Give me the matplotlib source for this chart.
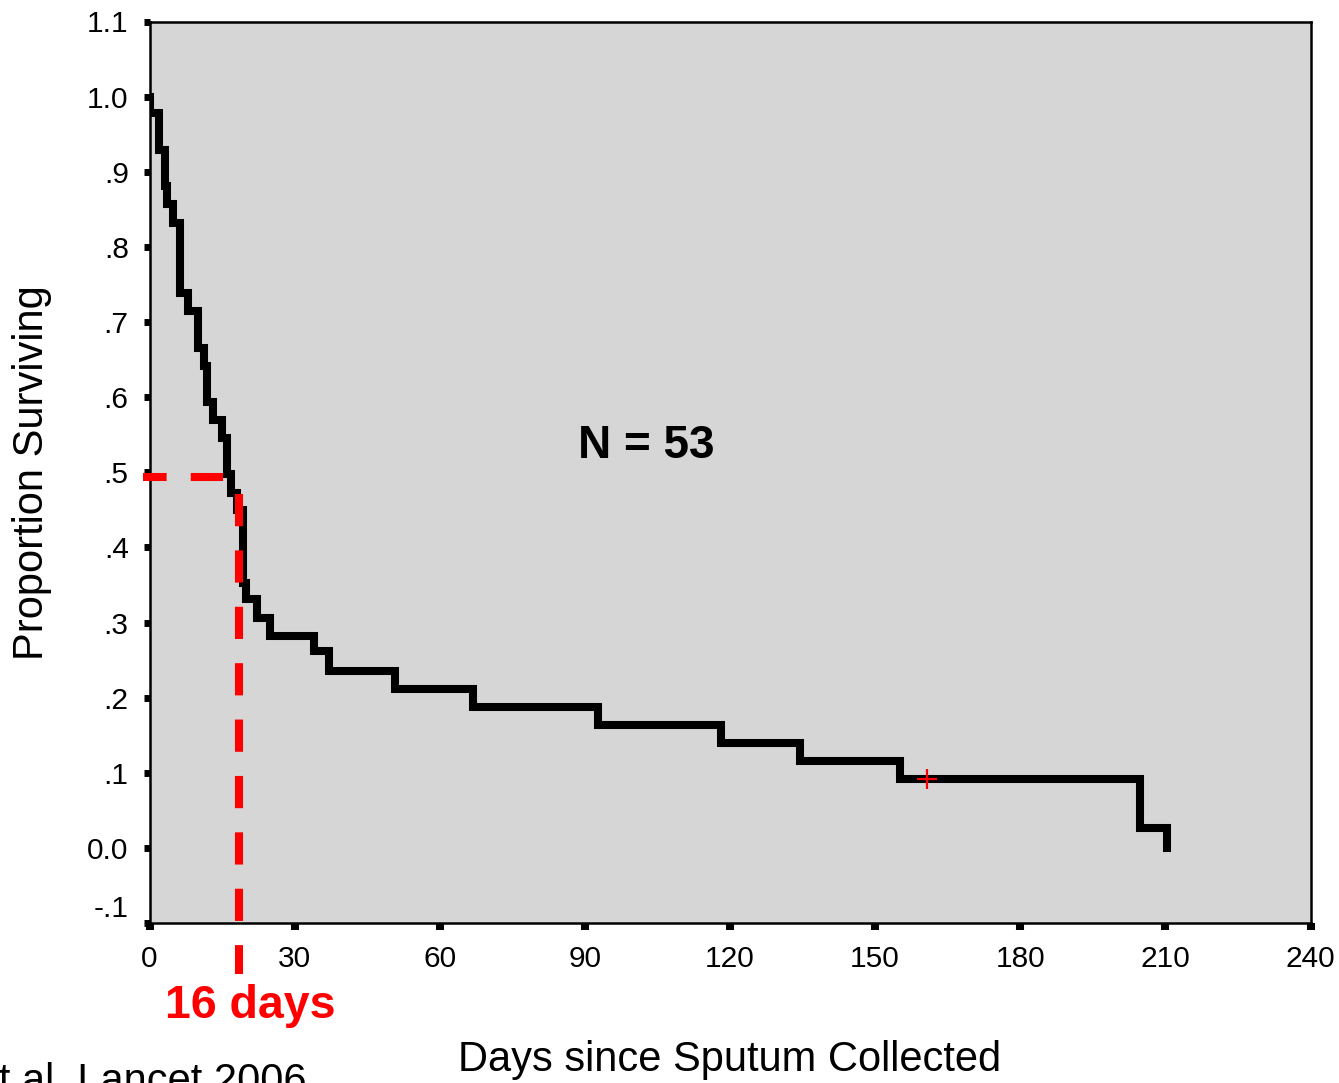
import numpy as np
import matplotlib
matplotlib.use('Agg')
import matplotlib.pyplot as plt

plt.rcParams['font.family'] = ['Liberation Sans', 'DejaVu Sans']

# Curva de supervivencia (Kaplan-Meier)
dias = [0, 0.1, 1.9, 3.2, 3.7, 4.9, 6.3, 8.0, 10.0, 11.2, 11.9, 13.1, 15.0,
        16.1, 16.8, 18.0, 19.3, 19.9, 22.3, 24.9, 34.0, 37.2, 50.8, 66.9,
        92.8, 118.1, 134.4, 155.2, 204.8, 210.3]
supervivencia = [1.0, 0.978, 0.929, 0.881, 0.857, 0.832, 0.738, 0.715, 0.666,
                 0.642, 0.593, 0.570, 0.546, 0.498, 0.473, 0.450, 0.353, 0.331,
                 0.306, 0.282, 0.262, 0.235, 0.211, 0.187, 0.163, 0.139, 0.115,
                 0.092, 0.027, 0.0]

# Observacion censurada
censura_dia = [160.8]
censura_sup = [0.092]

# Mediana marcada en rojo
mediana_y = 0.494
mediana_x_fin = 15.2
mediana_linea_x = 18.5
mediana_linea_y = (0.471, -0.168)

xticks = [0, 30, 60, 90, 120, 150, 180, 210, 240]
yticks = [-0.1, 0.0, 0.1, 0.2, 0.3, 0.4, 0.5, 0.6, 0.7, 0.8, 0.9, 1.0, 1.1]
ytick_labels = ['-.1', '0.0', '.1', '.2', '.3', '.4', '.5', '.6', '.7', '.8',
                '.9', '1.0', '1.1']

W, H = 1339, 1083
fig = plt.figure(figsize=(W / 100, H / 100), dpi=100)
left, right, top, bottom = 149.5, 1310.5, 21.5, 923
ax = fig.add_axes([left / W, 1 - bottom / H, (right - left) / W, (bottom - top) / H])
ax.set_facecolor('#d6d6d6')
ax.set_xlim(0, 240)
ax.set_ylim(-0.1, 1.1)

for s in ax.spines.values():
    s.set_linewidth(1.8)
    s.set_color('black')

# Curva
ax.step(dias, supervivencia, where='post', color='black', lw=5.8,
        solid_joinstyle='miter', solid_capstyle='projecting', zorder=3)
ax.plot(censura_dia, censura_sup, '+', color='red', ms=14, mew=1.6, zorder=4)

# Lineas de la mediana
ax.plot([mediana_x_fin, -1.4], [mediana_y, mediana_y], color='red', lw=5.8,
        dashes=(4, 3), clip_on=False, zorder=5)
ax.plot([mediana_linea_x, mediana_linea_x], list(mediana_linea_y), color='red',
        lw=5.8, dashes=(4, 3), clip_on=False, zorder=5)

ax.set_xticks(xticks)
ax.set_xticklabels([str(t) for t in xticks])
ax.set_yticks(yticks)
ax.set_yticklabels(ytick_labels)
ax.tick_params(axis='y', direction='out', length=4.5, width=5, pad=10.5,
               labelsize=21.5, colors='black')
ax.tick_params(axis='x', direction='out', length=5, width=5.8, pad=11,
               labelsize=21.5, colors='black')

# Etiqueta -.1 desplazada hacia arriba como en el original
lbl = ax.get_yticklabels()[0]
lbl.set_verticalalignment('bottom')

ax.set_xlabel('Days since Sputum Collected', fontsize=30)
ax.xaxis.set_label_coords(0.5, -0.13)
ax.set_ylabel('Proportion Surviving', fontsize=30)
ax.yaxis.set_label_coords(-0.084, 0.5)

ax.text(102.6, 0.519, 'N = 53', fontsize=33, fontweight='bold', ha='center',
        va='baseline', zorder=6)
ax.text(20.8, -0.227, '16 days', fontsize=33.5, fontweight='bold', color='red',
        ha='center', va='baseline', clip_on=False)

# Cita recortada en el borde inferior, igual que en el original
fig.text(307 / W, -10 / H, 'Gandhi et al. Lancet 2006', fontsize=30,
         ha='right', va='baseline')

fig.savefig('out.png', dpi=100)
